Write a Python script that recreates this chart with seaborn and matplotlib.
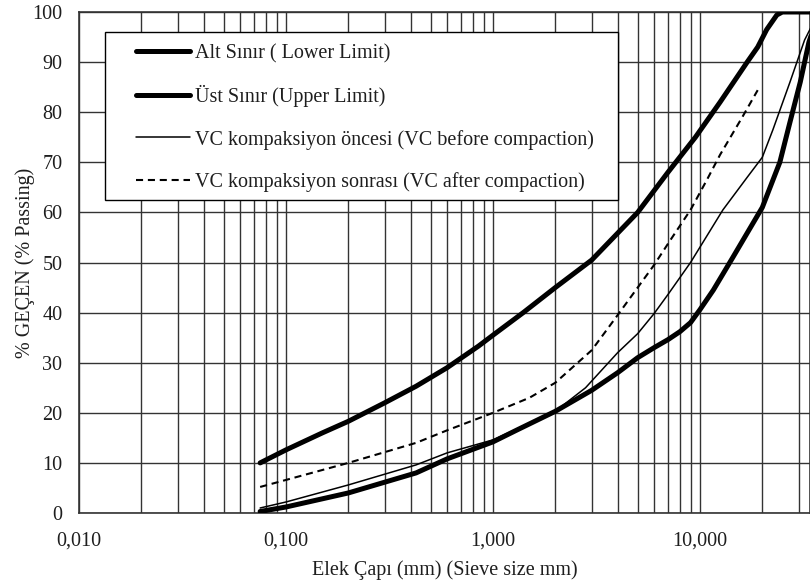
import matplotlib
matplotlib.use("Agg")
import matplotlib.pyplot as plt
import seaborn as sns
import pandas as pd
from matplotlib.patches import Rectangle
from matplotlib.ticker import LogLocator, FixedLocator, FixedFormatter, NullFormatter

# ---- data ----
lower_x = [0.075, 0.1, 0.2, 0.425, 0.6, 1.0, 1.31, 2.0, 3.0, 4.0, 5.0, 6.0, 7.0, 8.0, 9.0, 10.0, 11.6, 14.4, 20.0, 24.3, 27.2, 30.5, 33.6, 37.5]
lower_y = [0.3, 1.2, 4.0, 8.0, 10.8, 14.2, 16.6, 20.3, 24.5, 28.0, 31.0, 33.0, 34.6, 36.2, 38.0, 40.6, 44.5, 51.0, 61.0, 70.0, 78.0, 86.0, 94.0, 100.0]

upper_x = [0.075, 0.1, 0.15, 0.2, 0.3, 0.425, 0.6, 0.85, 1.0, 1.4, 2.0, 3.0, 5.0, 7.0, 9.5, 12.5, 16.9, 19.0, 21.0, 23.5, 25.0, 37.5]
upper_y = [10.0, 12.6, 16.0, 18.3, 22.0, 25.3, 29.0, 33.3, 35.5, 40.0, 45.0, 50.5, 60.0, 68.0, 75.0, 82.0, 90.0, 93.0, 96.5, 99.4, 100.0, 100.0]

before_x = [0.075, 0.1, 0.2, 0.425, 0.6, 1.0, 2.0, 2.8, 4.0, 5.0, 6.0, 7.0, 8.0, 9.0, 12.9, 16.9, 20.0, 22.5, 27.2, 32.0, 37.5]
before_y = [1.0, 2.2, 5.6, 9.6, 12.0, 14.6, 20.3, 25.0, 32.0, 35.8, 39.8, 43.6, 47.0, 50.0, 60.5, 67.0, 71.0, 76.5, 86.0, 94.4, 100.0]

after_x = [0.075, 0.1, 0.2, 0.425, 0.6, 1.0, 1.5, 2.0, 3.0, 4.0, 5.0, 6.0, 7.2, 9.0, 10.8, 12.5, 16.0, 19.0]
after_y = [5.2, 6.6, 10.0, 14.0, 16.5, 20.0, 23.0, 26.0, 32.5, 39.5, 45.0, 49.5, 54.5, 60.5, 66.5, 71.5, 79.0, 84.4]

series_labels = [
    "Alt Sınır ( Lower Limit)",
    "Üst Sınır (Upper Limit)",
    "VC kompaksiyon öncesi (VC before compaction)",
    "VC kompaksiyon sonrası (VC after compaction)",
]

x_ticks = [0.01, 0.1, 1.0, 10.0]
x_tick_labels = ["0,010", "0,100", "1,000", "10,000"]
y_ticks = [0, 10, 20, 30, 40, 50, 60, 70, 80, 90, 100]
y_tick_labels = [str(v) for v in y_ticks]

x_label = "Elek Çapı (mm) (Sieve size mm)"
y_label = "% GEÇEN (% Passing)"

FS = 14.5
TXT = "#1e1e1e"

# ---- figure ----
sns.set_style("white")
plt.rcParams["font.family"] = ["Liberation Serif", "DejaVu Serif"]

fig = plt.figure(figsize=(8.10, 5.82), dpi=100)
ax = fig.add_axes([79 / 810, (582 - 513) / 582, 1 - 79 / 810, (513 - 12) / 582])

frames = [
    (lower_x, lower_y, series_labels[0]),
    (upper_x, upper_y, series_labels[1]),
    (before_x, before_y, series_labels[2]),
    (after_x, after_y, series_labels[3]),
]
styles = [
    dict(color="black", linewidth=3.6, linestyle="-"),
    dict(color="black", linewidth=3.6, linestyle="-"),
    dict(color="black", linewidth=1.1, linestyle="-"),
    dict(color="black", linewidth=1.5, linestyle=(0, (3.4, 2.3))),
]
for (xs, ys, lab), st in zip(frames, styles):
    df = pd.DataFrame({"x": xs, "y": ys})
    sns.lineplot(data=df, x="x", y="y", ax=ax, sort=False, estimator=None,
                 label=lab, zorder=3, solid_capstyle="round",
                 solid_joinstyle="round", **st)

ax.set_xscale("log")
ax.set_xlim(0.01, 10 ** (1 + 110 / 207))
ax.set_ylim(0, 100)

ax.xaxis.set_major_locator(FixedLocator(x_ticks))
ax.xaxis.set_major_formatter(FixedFormatter(x_tick_labels))
ax.xaxis.set_minor_locator(LogLocator(base=10, subs=range(2, 10), numticks=50))
ax.xaxis.set_minor_formatter(NullFormatter())
ax.yaxis.set_major_locator(FixedLocator(y_ticks))
ax.yaxis.set_major_formatter(FixedFormatter(y_tick_labels))

ax.grid(True, which="major", axis="both", color="#333333", linewidth=1.0)
ax.grid(True, which="minor", axis="x", color="#333333", linewidth=1.0)
ax.set_axisbelow(True)

ax.tick_params(axis="both", which="both", length=0, labelsize=FS, colors=TXT)
ax.tick_params(axis="x", pad=13)
ax.tick_params(axis="y", pad=12)

for s in ax.spines.values():
    s.set_color("#333333")
    s.set_linewidth(1.2)

ax.set_xlabel(x_label, fontsize=FS, color=TXT, labelpad=7)
ax.set_ylabel(y_label, fontsize=FS, color=TXT, labelpad=-2)

# legend box drawn as a plain rectangle, entries placed inside it
box = Rectangle((105 / 810, 1 - 200 / 582), (618 - 105) / 810, (200 - 32) / 582,
                transform=fig.transFigure, facecolor="white",
                edgecolor="black", linewidth=1.0, zorder=4, clip_on=False)
ax.add_patch(box)
leg = ax.legend(loc="upper left", bbox_to_anchor=(136 / 810, 1 - 44 / 582),
                bbox_transform=fig.transFigure, borderaxespad=0, borderpad=0,
                fontsize=FS, frameon=False, handlelength=2.67, handletextpad=0.25,
                labelspacing=1.1)
leg.set_zorder(5)
for t in leg.get_texts():
    t.set_color(TXT)

fig.savefig("out.png", dpi=100)
